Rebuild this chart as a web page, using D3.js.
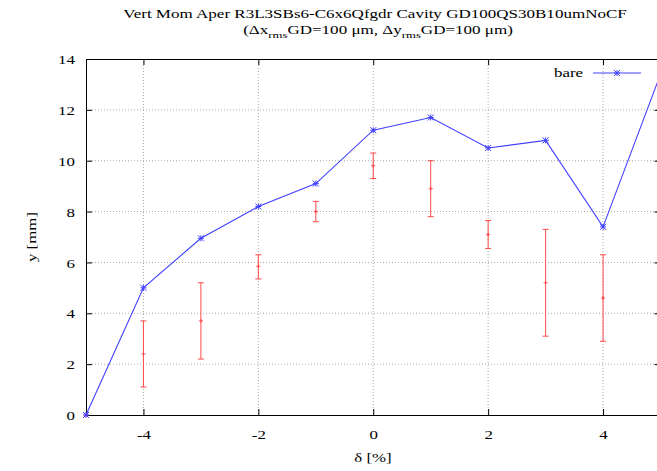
<!DOCTYPE html>
<html lang="en">
  <head>
    <meta charset="utf-8">
    <title>Vert Mom Aper</title>
    <script src="https://d3js.org/d3.v7.min.js"></script>
    <style>
      body { margin: 0; background: white; }
      text { font-family: "Liberation Serif", "DejaVu Serif", serif; fill: #000; }
    </style>
  </head>
  <body>
    <script>
      // blue line "bare"
      const delta = [-5, -4, -3, -2, -1, 0, 1, 2, 3, 4, 5];
      const bare = [0, 5.0, 6.95, 8.2, 9.1, 11.2, 11.7, 10.5, 10.8, 7.4, 13.4];
      // red error bars
      const errX = [-5, -4, -3, -2, -1, 0, 1, 2, 3, 4];
      const errMean = [0, 2.4, 3.7, 5.85, 8.0, 9.8, 8.9, 7.1, 5.2, 4.6];
      const errLow = [0, 1.1, 2.2, 5.35, 7.6, 9.3, 7.8, 6.55, 3.1, 2.9];
      const errHigh = [0, 3.7, 5.2, 6.3, 8.4, 10.3, 10.0, 7.65, 7.3, 6.3];
      const xTicks = [-4, -2, 0, 2, 4];
      const yTicks = [0, 2, 4, 6, 8, 10, 12, 14];

      const width = 657, height = 471;
      const pLeft = 86, pRight = 660.5, pTop = 59, pBottom = 415;
      const fs = 13, sx = 1.3;   // gnuplot font looks wide

      const x = d3.scaleLinear().domain([-5, 5]).range([pLeft, pRight]);
      const y = d3.scaleLinear().domain([0, 14]).range([pBottom, pTop]);

      const svg = d3.select("body").append("svg")
                    .attr("width", width)
                    .attr("height", height);

      // text helper: stretched horizontally like the original
      const label = (cx, cy, str, opts = {}) => {
        const g = svg.append("g")
                     .attr("transform", `translate(${cx},${cy}) rotate(${opts.rot || 0}) scale(${opts.sx || sx},1)`);
        return g.append("text").attr("text-anchor", opts.anchor || "middle")
                .style("font-size", (opts.size || fs) + "px").text(str);
      };

      // grid
      svg.selectAll(".gx").data(xTicks).enter().append("line")
         .attr("x1", d => x(d)).attr("x2", d => x(d))
         .attr("y1", pTop).attr("y2", pBottom)
         .attr("stroke", "#aaa").attr("stroke-dasharray", "1,2");
      svg.selectAll(".gy").data(yTicks.slice(1, -1)).enter().append("line")
         .attr("x1", pLeft).attr("x2", pRight)
         .attr("y1", d => y(d)).attr("y2", d => y(d))
         .attr("stroke", "#aaa").attr("stroke-dasharray", "1,2");

      // axes with inward ticks
      const axB = svg.append("g").attr("transform", `translate(0,${pBottom})`)
                     .call(d3.axisBottom(x).tickValues(xTicks).tickSizeInner(-6).tickSizeOuter(0));
      const axT = svg.append("g").attr("transform", `translate(0,${pTop})`)
                     .call(d3.axisTop(x).tickValues(xTicks).tickSizeInner(-6).tickSizeOuter(0).tickFormat(""));
      const axL = svg.append("g").attr("transform", `translate(${pLeft},0)`)
                     .call(d3.axisLeft(y).tickValues(yTicks).tickSizeInner(-6).tickSizeOuter(0));
      const axR = svg.append("g").attr("transform", `translate(${pRight},0)`)
                     .call(d3.axisRight(y).tickValues(yTicks).tickSizeInner(-6).tickSizeOuter(0).tickFormat(""));
      [axB, axT, axL, axR].forEach(g => {
        g.selectAll("text").style("font-size", fs + "px").style("font-family", "Liberation Serif, serif");
        g.selectAll("line").attr("stroke", "#000");
        g.select(".domain").attr("stroke", "#000");
      });
      axB.selectAll("text").text(d => d < 0 ? "-" + Math.abs(d) : d)
         .attr("y", 24).attr("dy", 0).attr("transform", `scale(${sx},1)`);
      axL.selectAll("text").attr("x", -11 / sx).attr("dy", "0.36em")
         .attr("transform", `scale(${sx},1)`);

      // error bars
      const red = "#ff4a4a";
      const eb = svg.append("g").attr("stroke", red).attr("stroke-width", 1);
      errX.forEach((d, i) => {
        if (errHigh[i] > errLow[i]) {
          eb.append("line").attr("x1", x(d)).attr("x2", x(d)).attr("y1", y(errLow[i])).attr("y2", y(errHigh[i]));
          eb.append("line").attr("x1", x(d) - 3).attr("x2", x(d) + 3).attr("y1", y(errLow[i])).attr("y2", y(errLow[i]));
          eb.append("line").attr("x1", x(d) - 3).attr("x2", x(d) + 3).attr("y1", y(errHigh[i])).attr("y2", y(errHigh[i]));
        }
        eb.append("line").attr("x1", x(d) - 2).attr("x2", x(d) + 2).attr("y1", y(errMean[i])).attr("y2", y(errMean[i]));
        eb.append("line").attr("x1", x(d)).attr("x2", x(d)).attr("y1", y(errMean[i]) - 2).attr("y2", y(errMean[i]) + 2);
      });

      // blue line
      const blue = "#4040ff";
      const line = d3.line().x((d, i) => x(delta[i])).y(d => y(d));
      svg.append("path").datum(bare).attr("d", line)
         .attr("fill", "none").attr("stroke", blue).attr("stroke-width", 1.1);
      const star = (g, cx, cy) => {
        const s = 3;
        g.append("path")
         .attr("d", `M${cx - s},${cy}H${cx + s}M${cx},${cy - s}V${cy + s}M${cx - s},${cy - s}L${cx + s},${cy + s}M${cx - s},${cy + s}L${cx + s},${cy - s}`)
         .attr("stroke", blue).attr("stroke-width", 1).attr("fill", "none");
      };
      const marks = svg.append("g");
      bare.forEach((d, i) => star(marks, x(delta[i]), y(d)));

      // legend
      label(583, 77, "bare", { anchor: "end" });
      svg.append("line").attr("x1", 593).attr("x2", 641).attr("y1", 73).attr("y2", 73)
         .attr("stroke", blue).attr("stroke-width", 1.1);
      star(svg, 617, 73);

      // titles
      label(375, 18, "Vert Mom Aper R3L3SBs6-C6x6Qfgdr Cavity GD100QS30B10umNoCF", { size: 12, sx: 1.42 });
      const t2 = label(378, 34, "", { size: 12, sx: 1.42 });
      t2.append("tspan").text("(\u0394x");
      t2.append("tspan").attr("dy", 4).style("font-size", "9px").text("rms");
      t2.append("tspan").attr("dy", -4).text("GD=100 \u03bcm, \u0394y");
      t2.append("tspan").attr("dy", 4).style("font-size", "9px").text("rms");
      t2.append("tspan").attr("dy", -4).text("GD=100 \u03bcm)");

      // axis labels
      label(36, 237, "y [mm]", { rot: -90 });
      label(373, 462, "\u03b4 [%]");
    </script>
  </body>
</html>
